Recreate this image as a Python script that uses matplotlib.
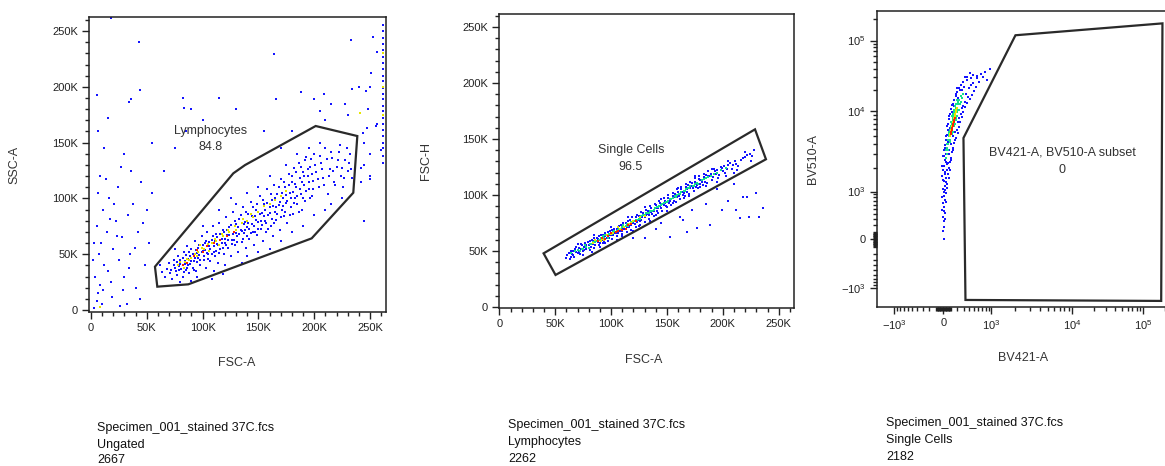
import numpy as np
import matplotlib
matplotlib.use("Agg")
import matplotlib.pyplot as plt
from matplotlib.ticker import FixedLocator, FixedFormatter, MultipleLocator

plt.rcParams['font.family'] = ['Liberation Sans', 'DejaVu Sans']
plt.rcParams['mathtext.default'] = 'regular'

# ------------------------------------------------------------------ data
# Panel 1: FSC-A vs SSC-A (values in thousands), ungated events
p1_blue = [
    (62,40),(64,34),(66,30),(68,37),(70,42),(71,33),(73,28),(74,45),(75,38),(77,31),(78,48),(79,36),
    (80,41),(82,30),(83,52),(84,44),(85,36),(86,57),(87,40),(88,33),(89,48),(90,55),(91,38),(92,44),
    (93,62),(94,35),(95,51),(96,47),(97,58),(98,40),(99,66),(100,53),(101,45),(102,60),(103,38),(104,70),
    (105,50),(106,57),(107,44),(108,63),(109,75),(110,52),(111,48),(112,68),(113,59),(114,42),(115,78),
    (116,55),(117,64),(118,72),(119,50),(120,60),(121,83),(122,67),(123,56),(124,74),(125,48),(126,63),
    (127,88),(128,70),(129,58),(130,77),(131,66),(132,52),(133,82),(134,72),(135,61),(136,92),(137,69),
    (138,79),(139,56),(140,74),(141,86),(142,64),(143,97),(144,77),(145,70),(146,58),(147,84),(148,90),
    (149,67),(150,79),(151,102),(152,73),(153,87),(154,62),(155,95),(156,80),(157,70),(158,108),(159,85),
    (160,92),(161,75),(162,99),(163,66),(164,112),(165,88),(166,81),(167,104),(168,94),(169,72),(170,117),
    (171,90),(172,100),(173,84),(174,110),(175,96),(176,78),(177,122),(178,105),(179,92),(180,115),
    (181,86),(182,127),(183,100),(184,110),(185,95),(186,132),(187,118),(188,104),(189,90),(190,124),
    (191,112),(192,98),(193,137),(194,120),(195,108),(196,128),(198,102),(199,116),(200,140),(202,124),
    (204,110),(206,132),(208,118),(210,145),(212,104),(214,126),(216,136),(218,115),(220,128),(222,142),
    (224,120),(226,110),(228,134),(230,125),(232,140),(234,118),
    (75,55),(80,25),(95,30),(110,35),(100,75),(120,40),(130,95),(140,48),(150,110),(160,55),(170,62),
    (180,70),(190,75),(200,85),(210,90),(140,105),(125,100),(115,90),(160,120),(175,130),(185,140),
    (195,145),(205,150),(215,95),(225,100),(150,52),(135,42),(108,28),(90,26),(118,32),
    (72,36),(74,40),(76,35),(77,43),(79,39),(80,45),(81,37),(82,47),(83,34),(84,41),(85,49),(86,38),
    (87,46),(88,52),(89,41),(90,44),(91,50),(92,36),(93,47),(94,54),(95,43),(96,56),(97,49),(98,45),
    (99,52),(100,58),(101,48),(102,54),(103,62),(104,51),(105,46),(106,61),(107,55),(108,50),(109,66),
    (110,57),(111,62),(112,53),(113,65),(114,58),(115,51),(116,68),(117,60),(118,56),(119,70),(120,64),
    (121,58),(122,72),(123,63),(124,67),(125,76),(126,59),(127,68),(128,63),(129,80),(130,69),(131,61),
    (132,74),(133,68),(134,85),(135,71),(136,64),(137,77),(138,72),(139,88),(140,66),(141,78),(142,73),
    (143,69),(144,84),(145,92),(146,75),(147,70),(148,81),(149,95),(150,73),(151,86),(152,80),(153,76),
    (154,99),(155,84),(156,90),(157,78),(158,96),(159,73),(160,87),(161,104),(162,82),(163,93),(164,78),
    (165,100),(166,92),(167,86),(168,110),(169,97),(170,83),(171,105),(172,93),(173,115),(174,88),
    (175,103),(176,98),(177,112),(178,85),(179,100),(180,120),(181,106),(182,96),(183,113),(184,124),
    (185,102),(186,88),(187,108),(188,128),(189,115),(190,100),(191,120),(192,134),(193,107),(194,126),
    (195,115),(196,100),(197,135),(198,122),(199,108),(201,130),(203,117),(205,138),(207,126),(209,112),
    (211,135),(213,120),(215,142),(217,125),(219,112),(221,134),(223,148),(225,127),(227,118),(229,145),
    (231,132),(233,126),
    # outside the gate, low FSC
    (3,2),(5,8),(6,15),(4,30),(8,22),(10,5),(12,40),(7,50),(15,35),(9,60),(14,70),(18,25),(20,55),(5,75),
    (22,80),(11,90),(25,45),(28,65),(16,100),(30,30),(33,85),(24,110),(35,50),(38,95),(40,20),(42,70),
    (45,115),(48,40),(36,125),(27,128),(50,90),(52,60),(13,117),(19,12),(2,45),(32,5),(44,10),(55,105),
    (47,78),(21,95),(6,105),(17,82),(29,18),(39,56),(3,60),(8,120),(26,4),(34,38),(11,18),(23,66),
    # scattered high SSC
    (5,193),(43,240),(44,197),(36,189),(34,186),(82,190),(83,181),(164,229),(166,189),(188,195),
    (200,189),(209,194),(233,242),(253,245),(256,231),(251,212),(234,198),(246,196),(250,200),(18,262),
    (15,172),(6,160),(55,150),(75,145),(100,170),(115,190),(205,178),(215,185),(230,175),(245,150),
    (250,140),(242,115),(248,180),(240,200),(228,185),(210,170),(90,180),(130,180),(180,160),(12,145),
    (30,140),(65,125),(170,145),(155,160),(245,130),(255,165),(85,160),(245,80),(250,120),(247,163),
    (256,167),(244,159),(242,127),(250,117),(260,143),
    # saturated events on the right border
    (262,132),(262,138),(262,145),(262,150),(262,156),(262,161),(262,167),(262,172),(262,178),(262,183),
    (262,189),(262,194),(262,199),(262,205),(262,210),(262,216),(262,221),(262,227),(262,233),(262,238),
    (262,244),(262,250),(262,255),
]
p1_yellow = [
    (78,40),(84,43),(90,47),(96,52),(101,55),(106,53),(112,62),(118,66),(124,70),(88,45),(115,58),
    (130,72),(140,80),(150,88),(160,95),(170,102),(108,60),(95,48),(135,78),(145,83),(262,175),
    (262,200),(262,230),(241,177),(8,3),(80,43),(86,46),(93,50),(99,56),(105,59),(111,64),(117,68),
    (123,72),(129,75),(136,82),(143,86),(155,93),(165,99),(175,107),(83,38),(98,58),
]
p1_red = [(82,40),(92,48),(100,52),(110,60),(122,66),(128,70),(86,42),(104,57),(95,54),(116,63)]
p1_gate_x = [57.3, 59.4, 87.2, 197.7, 235.0, 238.6, 201.3, 138.0, 127.5]
p1_gate_y = [38.8, 20.9, 23.0, 64.2, 105.1, 155.9, 164.9, 129.9, 122.5]

# Panel 2: FSC-A vs FSC-H (thousands), Lymphocytes
p2_blue = [
    (60,44),(62,48),(63,43),(65,47),(66,50),(67,45),(68,52),(70,48),(71,53),(72,47),(74,55),(75,50),
    (76,54),(78,52),(79,58),(80,55),(81,51),(83,60),(84,56),(85,53),(87,62),(88,58),(89,55),(91,64),
    (92,60),(93,57),(95,66),(96,62),(97,59),(99,68),(100,64),(101,61),(103,70),(104,66),(105,63),(107,72),
    (108,68),(110,65),(111,75),(112,70),(114,67),(115,77),(116,73),(118,69),(119,80),(120,75),(122,71),
    (123,82),(124,78),(126,73),(127,85),(128,80),(130,76),(131,87),(132,83),(134,79),(135,90),(136,85),
    (138,81),(139,92),(140,88),(142,84),(143,95),(144,90),(146,86),(147,97),(148,93),(150,89),(151,100),
    (152,95),(154,91),(155,102),(156,98),(158,94),(159,105),(160,100),(162,96),(163,107),(164,103),
    (166,99),(167,110),(168,105),(170,101),(171,112),(172,108),(174,104),(175,115),(176,110),(178,106),
    (179,117),(180,113),(182,109),(183,119),(184,115),(186,111),(187,121),(188,117),(190,113),(192,123),
    (194,119),(196,115),(198,125),(200,121),(203,117),(205,127),(208,123),(211,130),(214,126),(218,133),
    (222,136),(226,135),(228,140),
    (61,46),(64,45),(64,50),(66,46),(69,49),(69,54),(71,49),(73,52),(73,56),(76,51),(77,57),(78,55),
    (80,53),(81,59),(82,54),(84,59),(85,62),(86,55),(88,61),(89,63),(90,57),(91,61),(93,64),(94,59),
    (95,63),(97,67),(98,62),(99,64),(101,69),(102,64),(103,66),(105,70),(106,66),(107,68),(109,73),
    (110,68),(111,70),(113,75),(114,71),(116,71),(117,78),(118,73),(119,75),(121,74),(122,80),(123,76),
    (125,81),(126,77),(127,78),(129,84),(130,80),(131,82),(133,86),(134,82),(136,88),(137,83),(138,86),
    (140,91),(141,86),(142,88),(144,93),(145,88),(147,91),(148,95),(149,90),(151,97),(152,93),(153,95),
    (155,99),(156,95),(157,101),(159,98),(160,103),(161,99),(163,105),(164,100),(165,102),(167,107),
    (168,103),(169,109),(171,106),(172,111),(173,106),(175,112),(176,107),(177,109),(179,114),(180,110),
    (181,112),(183,116),(184,112),(185,118),(187,117),(189,119),(191,116),(193,121),(195,122),(197,118),
    (199,124),(201,126),(202,120),(204,123),(206,129),(209,127),(212,128),(216,131),(220,134),(224,137),
    (213,122),
    (70,56),(75,46),(85,64),(90,54),(100,71),(105,60),(115,80),(120,68),(130,89),(135,77),(145,96),
    (150,86),(160,106),(165,97),(175,117),(180,107),(190,123),(195,112),(205,130),(210,120),(220,138),
    (225,130),(83,49),(95,57),(110,63),(125,72),(140,82),(155,93),(170,99),(185,108),
    # doublets below the band
    (152.8,62.8),(161.8,80.6),(164.7,77.7),(167.7,67.2),(172.2,86.6),(176.7,70.3),(188.6,73.2),
    (199,86.6),(212,86.6),(215,79.2),(218,98.5),(221.4,98.5),(223,80.6),(230,101.5),(232,80.6),
    (236,88),(140,70),(130,62),(185,92),(205,95),(120,62),(145,75),(195,105),(210,110),
]
p2_mid = [
    (75,52),(82,56),(86,58),(90,60),(94,62),(98,65),(102,67),(106,69),(113,72),(117,74),(121,77),
    (125,79),(129,82),(133,84),(137,86),(141,89),(145,91),(149,94),(153,96),(157,99),(161,101),
    (165,104),(169,106),(173,108),(177,111),(185,115),
    (72,50),(78,54),(85,58),(89,60),(93,63),(101,65),(105,68),(109,70),(115,72),(119,76),(123,78),
    (127,81),(131,84),(135,86),(139,88),(143,90),(147,93),(151,95),(155,97),(159,100),(163,103),
    (167,105),(171,108),(175,110),(181,113),(189,117),(195,120),(80,53),(97,62),(111,73),
    (64,48),(68,50),(70,51),(74,52),(77,55),(81,56),(84,58),(87,59),(91,62),(95,64),(99,65),(103,68),
    (107,70),(110,71),(114,74),(118,76),(122,78),(126,79),(130,82),(134,84),(138,87),(142,89),(146,92),
    (150,94),(154,96),(158,98),(162,101),(166,104),(170,106),(174,108),(178,110),(183,114),(187,116),
    (192,119),(198,122),(203,124),
]
p2_yellow = [(84,57),(92,61),(100,65),(108,70),(118,75),(126,80),(96,64),(112,71),
             (86,60),(94,60),(102,66),(106,71),(116,74),(120,77),(130,81),(91,59)]
p2_red = [(88,59),(97,63),(104,67),(110,69),(122,77),(100,66),(115,73),
          (92,62),(106,68),(113,70),(118,74),(95,61)]
p2_gate_x = [39.6, 228.8, 238.6, 50.3]
p2_gate_y = [47.9, 158.6, 131.9, 28.6]

# Panel 3: BV421-A vs BV510-A, Single Cells
p3_blue = [
    (14,0),(14,170),(14,264),(0,332),(27,406),(-13,488),(14,556),(0,655),(27,734),(-13,823),(41,935),
    (14,1000),(0,1090),(27,1190),(55,1255),(14,1370),(41,1490),(-13,1576),(69,1670),(27,1766),(0,1870),
    (83,1978),(14,2095),(55,2217),(97,2350),(27,2483),(111,2630),(0,2783),(41,2950),(125,3117),(14,3300),
    (140,3492),(27,3800),(155,4030),(41,4385),(185,4640),(55,5050),(215,5350),(69,5840),(231,6350),
    (69,6911),(247,7320),(83,7960),(280,8440),(97,9200),(297,9720),(111,10700),(332,11400),(140,12550),
    (368,12950),(155,14290),(426,14760),(185,16270),(467,16760),(200,18520),(510,19100),(231,21090),
    (555,21780),(264,23220),(297,25600),(368,27330),(446,29150),(332,30100),(578,31110),(679,33200),
    (426,34240),(790,35420),(963,39000),(488,24800),(627,25600),(853,27330),(406,21090),(280,19700),
    (200,21090),(125,12150),(350,17380),(170,9720),
    (0,1406),(83,1489),(27,1669),(97,1870),(-13,2095),(41,2347),(111,2483),(14,2783),(83,2948),
    (140,3300),(27,3492),(69,4140),(170,4385),(41,4913),(97,6168),(200,5830),(55,6530),(215,7320),
    (83,8676),(264,9180),(125,9720),(280,11020),(155,11760),(332,13390),(215,15240),(386,15740),
    (247,19770),(314,21780),(185,17340),(446,23230),(578,29170),(368,30140),(734,30140),(488,32140),
    (140,4913),(111,3913),(170,5505),(231,8200),(297,11760),(83,3300),(55,1870),(69,2280),(41,1329),
    (27,1058),(55,1120),(14,853),(41,679),(14,446),(27,297),(0,111),
]
p3_mid = [
    (83,4913),(97,5505),(111,6168),(125,6911),(140,7743),(155,8676),(170,9720),(185,11020),(200,12550),
    (231,14290),(264,16270),(69,3913),(55,3492),(55,2950),(125,5220),(155,6530),(185,8200),(215,10360),
    (247,12550),(297,17380),(41,2630),(97,4385),
    (83,5505),(111,7320),(140,8200),(170,10360),(200,9720),(231,12550),(97,4140),(69,3300),(125,8676),
    (155,9720),
    (41,3300),(55,3913),(69,4385),(83,5220),(97,5840),(111,6530),(125,7320),(140,9180),(155,10360),
    (170,11760),(185,12550),(200,14290),(215,13390),(140,5505),(170,6911),(185,7743),(200,8676),
    (231,10360),(264,13390),(280,15240),
]
p3_yellow = [(111,5505),(125,6168),(140,6911),(155,7743),(170,8676),(97,4913),(185,9720),(200,11020),
             (97,5220),(111,5840),(125,6530),(140,7320),(155,8200),(170,9180),(185,10360)]
p3_red = [(125,5840),(140,6530),(155,7320),(170,8200),(111,5220),(125,6168),(140,6911),(155,7743),
          (111,5505)]
p3_gate_x = [2013, 185000, 177600, 332, 297]
p3_gate_y = [118800, 175000, -1467, -1426, 4690]

x_labels = ['FSC-A', 'FSC-A', 'BV421-A']
y_labels = ['SSC-A', 'FSC-H', 'BV510-A']
gate_names = ['Lymphocytes', 'Single Cells', 'BV421-A, BV510-A subset']
gate_freqs = ['84.8', '96.5', '0']
footer_files = ['Specimen_001_stained 37C.fcs'] * 3
footer_gates = ['Ungated', 'Lymphocytes', 'Single Cells']
footer_counts = ['2667', '2262', '2182']

lin_major = [0, 50, 100, 150, 200, 250]
lin_labels = ['0', '50K', '100K', '150K', '200K', '250K']
log_major = [-1000, 0, 1000, 10000, 100000]
log_labels = [r'$-10^3$', '0', r'$10^3$', r'$10^4$', r'$10^5$']

# colours
C_BLUE = '#1414ff'
C_MID = '#14e08c'
C_YEL = '#e6e600'
C_RED = '#ff2200'
GATE_C = '#2a2a2a'

# ------------------------------------------------------------------ biexponential-like scale
BX_C = 400.0
ANCH_V = np.array([-1e4, -1e3, 0.0, 1e3, 1e4, 1e5])
ANCH_D = np.array([-130.0, -49.0, 0.0, 48.0, 129.0, 200.0])
ANCH_U = np.arcsinh(ANCH_V / BX_C)


def _pw(x, xs, ys):
    x = np.asarray(x, dtype=float)
    y = np.interp(x, xs, ys)
    lo_s = (ys[1] - ys[0]) / (xs[1] - xs[0])
    hi_s = (ys[-1] - ys[-2]) / (xs[-1] - xs[-2])
    y = np.where(x < xs[0], ys[0] + (x - xs[0]) * lo_s, y)
    y = np.where(x > xs[-1], ys[-1] + (x - xs[-1]) * hi_s, y)
    return y


def biex_fwd(v):
    return _pw(np.arcsinh(np.asarray(v, dtype=float) / BX_C), ANCH_U, ANCH_D)


def biex_inv(d):
    return BX_C * np.sinh(_pw(d, ANCH_D, ANCH_U))


# ------------------------------------------------------------------ figure
W, H = 1165, 466
fig = plt.figure(figsize=(W / 100, H / 100), dpi=100)


def rect(l, t, w, h):
    return [l / W, 1 - (t + h) / H, w / W, h / H]


ax1 = fig.add_axes(rect(89, 17, 297, 295))
ax2 = fig.add_axes(rect(499, 14, 295, 294))
ax3 = fig.add_axes(rect(877, 11, 296.2, 296))


def style(ax):
    for s in ax.spines.values():
        s.set_linewidth(1.1)
        s.set_color('#222222')
    ax.tick_params(which='both', direction='out', colors='#222222', width=1.0,
                   labelsize=8, labelcolor='#222222')
    ax.tick_params(which='major', length=5, pad=3)
    ax.tick_params(which='minor', length=3)


def dots(ax, pts, color, size=3.6):
    a = np.array(pts, dtype=float)
    ax.scatter(a[:, 0], a[:, 1], s=size, marker='s', c=color, linewidths=0, zorder=2)


def gate(ax, gx, gy):
    ax.fill(gx, gy, fill=False, edgecolor=GATE_C, linewidth=1.6, zorder=3)


# Panel 1
dots(ax1, p1_blue, C_BLUE)
dots(ax1, p1_yellow, C_YEL)
dots(ax1, p1_red, C_RED)
gate(ax1, p1_gate_x, p1_gate_y)
ax1.set_xlim(-1.8, 264.3)
ax1.set_ylim(-1.8, 262.6)
ax1.text(107.5, 160.7, gate_names[0], ha='center', va='center', fontsize=9, color='#333333')
ax1.text(107.5, 146.3, gate_freqs[0], ha='center', va='center', fontsize=9, color='#333333')

# Panel 2
dots(ax2, p2_blue, C_BLUE)
dots(ax2, p2_mid, C_MID)
dots(ax2, p2_yellow, C_YEL)
dots(ax2, p2_red, C_RED)
gate(ax2, p2_gate_x, p2_gate_y)
ax2.set_xlim(-0.3, 263.7)
ax2.set_ylim(-0.9, 261.6)
ax2.text(117.7, 140.2, gate_names[1], ha='center', va='center', fontsize=9, color='#333333')
ax2.text(117.7, 125.3, gate_freqs[1], ha='center', va='center', fontsize=9, color='#333333')

for ax in (ax1, ax2):
    for axis in (ax.xaxis, ax.yaxis):
        axis.set_major_locator(FixedLocator(lin_major))
        axis.set_major_formatter(FixedFormatter(lin_labels))
        axis.set_minor_locator(MultipleLocator(10))
    style(ax)

# Panel 3
ax3.set_xscale('function', functions=(biex_fwd, biex_inv))
ax3.set_yscale('function', functions=(biex_fwd, biex_inv))
dots(ax3, p3_blue, C_BLUE, 4.2)
dots(ax3, p3_mid, C_MID, 4.2)
dots(ax3, p3_yellow, C_YEL, 4.2)
dots(ax3, p3_red, C_RED, 4.2)
gate(ax3, p3_gate_x, p3_gate_y)
ax3.set_xlim(-1667, 262144)
ax3.set_ylim(-1750, 262144)
minor_vals = sorted([s * m * 10 ** k for k in (1, 2) for m in range(1, 10) for s in (1, -1)]
                    + [m * 10 ** k for k in (3, 4, 5) for m in range(2, 10)])
for axis in (ax3.xaxis, ax3.yaxis):
    axis.set_major_locator(FixedLocator(log_major))
    axis.set_major_formatter(FixedFormatter(log_labels))
    axis.set_minor_locator(FixedLocator(minor_vals))
style(ax3)
ax3.text(0.626, 0.523, gate_names[2], transform=ax3.transAxes, ha='center', va='center',
         fontsize=9, color='#333333')
ax3.text(0.626, 0.463, gate_freqs[2], transform=ax3.transAxes, ha='center', va='center',
         fontsize=9, color='#333333')

# axis labels
lab_kw = dict(fontsize=9, color='#333333')
for ax, xl, yl, xx, xy, yx in ((ax1, x_labels[0], y_labels[0], 0.498, -0.153, -0.232),
                               (ax2, x_labels[1], y_labels[1], 0.490, -0.156, -0.227),
                               (ax3, x_labels[2], y_labels[2], 0.493, -0.152, -0.196)):
    ax.set_xlabel(xl, **lab_kw)
    ax.set_ylabel(yl, **lab_kw)
    ax.xaxis.set_label_coords(xx, xy)
    ax.yaxis.set_label_coords(yx, 0.5)

# footer sample info
for fx, fys, i in ((97, (428, 445, 460), 0), (508, (425, 442, 459), 1), (886, (423, 440, 457), 2)):
    for fy, txt in zip(fys, (footer_files[i], footer_gates[i], footer_counts[i])):
        fig.text(fx / W, 1 - fy / H, txt, ha='left', va='center', fontsize=9, color='#111111')

fig.savefig('out.png', dpi=100, facecolor='white')
